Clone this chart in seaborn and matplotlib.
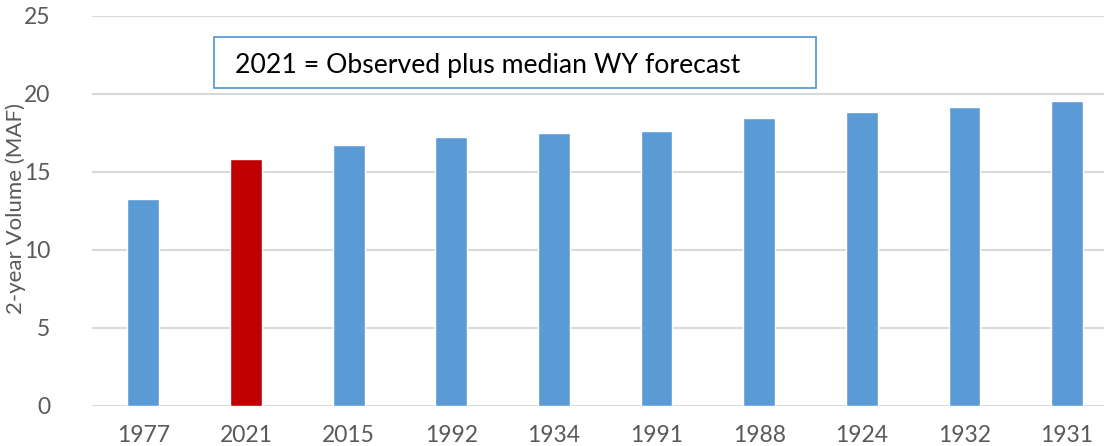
import pandas as pd
import matplotlib.pyplot as plt
import seaborn as sns
from matplotlib.patches import Rectangle

# values
years = ['1977', '2021', '2015', '1992', '1934', '1991', '1988', '1924', '1932', '1931']
volume = [13.27, 15.83, 16.70, 17.22, 17.50, 17.63, 18.44, 18.87, 19.15, 19.55]
y_ticks = [0, 5, 10, 15, 20, 25]

data = pd.DataFrame({'year': years, 'volume': volume})
colors = {y: '#5B9BD5' for y in years}
colors['2021'] = '#C00000'

sns.set_style('white')
plt.rcParams['font.family'] = ['Lato', 'DejaVu Sans']

W, H = 1104, 446
fig = plt.figure(figsize=(W / 100, H / 100), dpi=100)
ax_w = 1 - 92 / W
ax = fig.add_axes([92 / W, 1 - 406 / H, ax_w, (406 - 16) / H])

sns.barplot(data=data, x='year', y='volume', hue='year', palette=colors,
            width=0.31, legend=False, ax=ax, saturation=1, zorder=3)

ax.set_ylim(0, 25)
ax.set_xlim(-0.5, 9.36)
ax.set_yticks(y_ticks)
ax.yaxis.grid(True, color='#D9D9D9', linewidth=1.5, zorder=0)
ax.set_axisbelow(True)
for s in ax.spines.values():
    s.set_visible(False)
ax.tick_params(axis='both', length=0, labelsize=16.5, labelcolor='#595959')
ax.tick_params(axis='x', pad=14)
ax.tick_params(axis='y', pad=30)
ax.set_xlabel('')
ax.set_ylabel('2-year Volume (MAF)', fontsize=16, color='#595959', va='center')
ax.yaxis.set_label_coords((16 - 92) / (ax_w * W), (406 - 209) / 390)

# annotation box
fig.patches.append(Rectangle((214 / W, 1 - 88 / H), (816 - 214) / W, (88 - 37) / H,
                             transform=fig.transFigure, facecolor='white',
                             edgecolor='#5B9BD5', linewidth=1.3, zorder=5))
fig.text(235 / W, 1 - 66 / H, '2021 = Observed plus median WY forecast',
         fontsize=19.2, color='black', va='center', ha='left', zorder=6)

fig.savefig('out.png', dpi=100)
